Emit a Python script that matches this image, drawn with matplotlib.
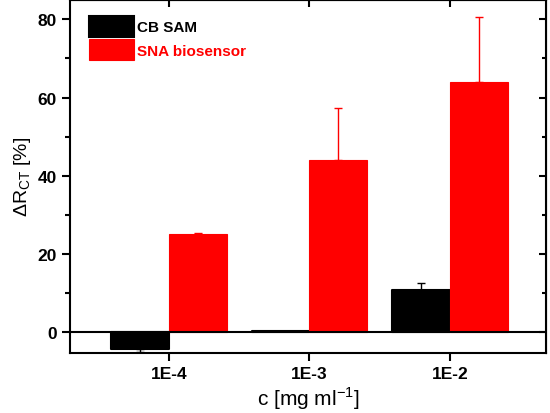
import numpy as np
import matplotlib
matplotlib.use('Agg')
import matplotlib.pyplot as plt

# data
categories = ['1E-4', '1E-3', '1E-2']
cb_sam = [-4.3, 0.3, 10.8]
cb_sam_err_low = [0.7, 0.0, 0.0]
cb_sam_err_up = [0.0, 0.0, 1.8]
sna = [25.1, 44.1, 63.9]
sna_err_low = [0.0, 0.0, 0.0]
sna_err_up = [0.4, 13.2, 16.7]

plt.rcParams['font.family'] = ['Liberation Sans', 'DejaVu Sans']

fig = plt.figure(figsize=(5.5, 4.14), dpi=100)
ax = fig.add_axes([0.127, 0.145, 0.866, 0.853])

x = np.arange(1, len(categories) + 1)
w = 0.41

ax.bar(x - w / 2, cb_sam, w, color='black', edgecolor='black', linewidth=1.5,
       joinstyle='round', label='CB SAM', zorder=3)
ax.errorbar(x - w / 2, cb_sam, yerr=[cb_sam_err_low, cb_sam_err_up], fmt='none',
            ecolor='black', elinewidth=1.0, capsize=3, capthick=1.0, zorder=4)
ax.bar(x + w / 2, sna, w, color='#ff0000', edgecolor='#ff0000', linewidth=0.8,
       label='SNA biosensor', zorder=3)
ax.errorbar(x + w / 2, sna, yerr=[sna_err_low, sna_err_up], fmt='none',
            ecolor='#ff0000', elinewidth=1.0, capsize=3, capthick=1.0, zorder=2)

ax.axhline(0, color='black', linewidth=1.5, zorder=5)

ax.set_xlim(0.295, 3.685)
ax.set_ylim(-5.3, 85)
ax.set_xticks(x)
ax.set_xticklabels(categories)
ax.set_yticks([0, 20, 40, 60, 80])
ax.set_yticks([10, 30, 50, 70], minor=True)

for s in ax.spines.values():
    s.set_linewidth(1.5)

ax.tick_params(axis='both', which='major', direction='out', length=6, width=1.5,
               labelsize=12.5)
ax.tick_params(axis='y', which='minor', direction='out', length=3.5, width=1.5)
for lab in ax.get_xticklabels() + ax.get_yticklabels():
    lab.set_fontweight('bold')

# inward ticks on top and right
axt = ax.secondary_xaxis('top')
axt.set_xticks(x)
axt.tick_params(direction='in', length=5, width=1.5, labeltop=False)
axr = ax.secondary_yaxis('right')
axr.set_yticks([0, 20, 40, 60, 80])
axr.set_yticks([10, 30, 50, 70], minor=True)
axr.tick_params(which='major', direction='in', length=5, width=1.5, labelright=False)
axr.tick_params(which='minor', direction='in', length=3, width=1.5)

ax.set_xlabel('c [mg ml$^{\\mathregular{-1}}$]', fontsize=15, labelpad=2)
ax.set_ylabel('$\\mathregular{\\Delta R_{CT}}$ [%]', fontsize=14, labelpad=3)

leg = ax.legend(loc='upper left', bbox_to_anchor=(0.015, 0.99), frameon=False,
                handlelength=2.95, handleheight=1.75, handletextpad=0.15,
                labelspacing=0.15, borderaxespad=0.4,
                prop={'weight': 'bold', 'size': 11})
leg.get_texts()[1].set_color('#ff0000')

fig.savefig('out.png', dpi=100)
